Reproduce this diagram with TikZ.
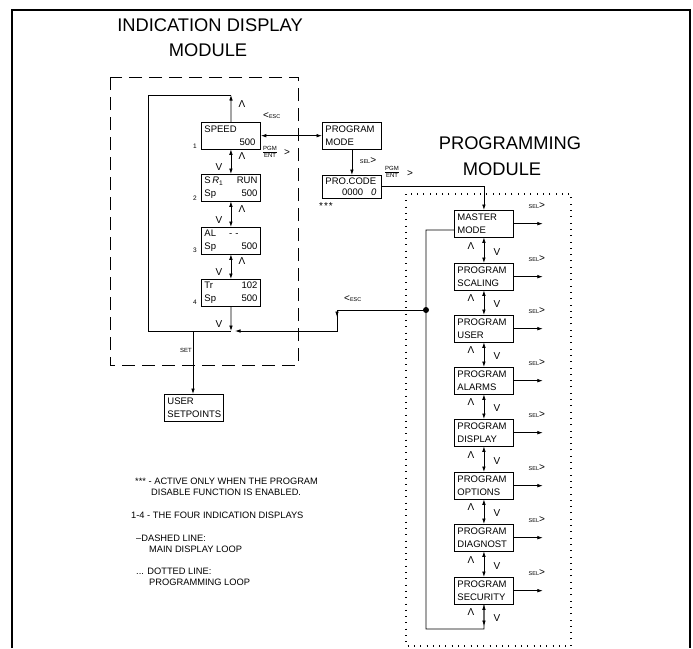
\documentclass[tikz,border=0pt]{standalone}
\usepackage{fontspec}
\setmainfont{Liberation Sans}
\usetikzlibrary{arrows.meta,calc}
\newcommand{\myesc}{{\fontsize{10}{10}\selectfont<}{\fontsize{5.5}{6}\selectfont ESC}}
\newcommand{\mysel}{{\fontsize{5.5}{6}\selectfont SEL}{\fontsize{10}{10}\selectfont>}}
\newcommand{\rline}[1]{\makebox[53pt][r]{#1}}
\begin{document}
\begin{tikzpicture}[x=1pt,y=-1pt,
  >={Latex[length=5.5pt,width=3.6pt]},
  box/.style={draw, line width=0.85pt, minimum height=26.5pt, text width=53pt,
    inner xsep=3pt, inner ysep=1pt, align=left,
    font=\fontsize{9.5}{12.5}\selectfont, anchor=north west},
  conn/.style={line width=0.75pt},
  lbl/.style={font=\fontsize{10}{10}\selectfont, inner sep=0pt},
  tinylbl/.style={font=\fontsize{6}{6}\selectfont, inner sep=0pt},
  numlbl/.style={font=\fontsize{6.5}{6.5}\selectfont, inner sep=0pt},
  legend/.style={font=\fontsize{9.3}{10}\selectfont, inner sep=0pt, anchor=west},
  title/.style={font=\fontsize{18.3}{20}\selectfont, inner sep=0pt}]
\useasboundingbox (0,0) rectangle (693,648);
% outer frame
\draw[line width=2pt] (12,648) -- (12,10) -- (690,10) -- (690,648);
% titles
\node[title] (t1) at (210,25) {INDICATION DISPLAY};
\node[title] (t2) at (208,50) {MODULE};
\node[title] (t3) at (510,143) {PROGRAMMING};
\node[title] (t4) at (502,169) {MODULE};
% module frames
\draw[line width=0.9pt, dash pattern=on 13pt off 7pt] (110,77) rectangle (298,365);
\draw[line width=1.1pt, dash pattern=on 0.9pt off 5.4pt] (406,194) rectangle (571,646);
% indication boxes
\node[box] (b1) at (201,122) {SPEED\\\rline{500\hspace{2pt}}};
\node[box] (b2) at (201,174) {S\,\textit{R}\textsubscript{1}\hfill RUN\\Sp\hfill 500\hspace*{3pt}};
\node[box] (b3) at (201,227) {AL\hspace{13pt}- -\\Sp\hfill 500\hspace*{3pt}};
\node[box] (b4) at (201,279) {Tr\hfill 102\hspace*{2pt}\\Sp\hfill 500\hspace*{2pt}};
\node[box] (us) at (164,394) {USER\\SETPOINTS};
\node[box] (pm) at (322,122) {PROGRAM\\MODE};
\node[box, minimum height=22.5pt, font=\fontsize{9.5}{11}\selectfont] (pc) at (322,175) {PRO.CODE\\\rline{0000\hspace{8pt}\textit{0}\hspace{2pt}}};
% box numbers
\node[numlbl] (n1) at (195,146) {1};
\node[numlbl] (n2) at (195,198) {2};
\node[numlbl] (n3) at (195,250) {3};
\node[numlbl] (n4) at (195,302) {4};
% indication loop
\coordinate (tr) at (231,95);
\coordinate (tl) at (148,95);
\coordinate (bl) at (148,331);
\coordinate (br) at (231,331);
\coordinate (setj) at (193,331);
\draw[conn,->] (b1.north) -- (tr);
\draw[conn] (tr) -- (tl) -- (bl) -- (br);
\draw[conn,<->] (b1.south) -- (b2.north);
\draw[conn,<->] (b2.south) -- (b3.north);
\draw[conn,<->] (b3.south) -- (b4.north);
\draw[conn,->] (b4.south) -- (br);
\draw[conn,->] (setj) -- (setj |- us.north);
\node[tinylbl, anchor=east] (setl) at (192,350) {SET};
\node[lbl] (ua0) at (242,104) {Λ};
\node[lbl] (ua1) at (242,156) {Λ};
\node[lbl] (ud1) at (219,167) {V};
\node[lbl] (ua2) at (242,209) {Λ};
\node[lbl] (ud2) at (219,220) {V};
\node[lbl] (ua3) at (242,261) {Λ};
\node[lbl] (ud3) at (219,272) {V};
\node[lbl] (ud4) at (219,324) {V};
% speed <-> program mode
\draw[conn,<->] (b1.east) -- (pm.west);
\node[inner sep=0pt, anchor=west] (esc1) at (263,116) {\myesc};
\node[inner sep=0pt, font=\fontsize{6}{6}\selectfont, align=center] (pe1) at (270,152) {\underline{PGM}\\ENT};
\node[lbl] (pe1g) at (287,153) {>};
\draw[conn,->] (pm.south) -- (pc.north);
\node[inner sep=0pt] (sel0) at (368,161) {\mysel};
\node[inner sep=0pt, font=\fontsize{10}{10}\selectfont] (ast) at (326,206) {*\kern1pt*\kern1pt*};
\node[inner sep=0pt, font=\fontsize{6}{6}\selectfont, align=center] (pe2) at (392,172) {\underline{PGM}\\ENT};
% programming boxes
\node[box] (m1) at (454,210) {MASTER\\MODE};
\node[box] (m2) at (454,263) {PROGRAM\\SCALING};
\node[box] (m3) at (454,315) {PROGRAM\\USER};
\node[box] (m4) at (454,367) {PROGRAM\\ALARMS};
\node[box] (m5) at (454,419) {PROGRAM\\DISPLAY};
\node[box] (m6) at (454,472) {PROGRAM\\OPTIONS};
\node[box] (m7) at (454,524) {PROGRAM\\DIAGNOST};
\node[box] (m8) at (454,577) {PROGRAM\\SECURITY};
\node[lbl] (pe2g) at (410,174) {>};
\draw[conn,->] (pc.east) -| (m1.north);
\foreach \i/\j in {1/2,2/3,3/4,4/5,5/6,6/7,7/8}
  \draw[conn,<->] (m\i.south) -- (m\j.north);
\foreach \i in {1,...,8}{
  \draw[conn,->] (m\i.east) -- ++(29,0);
  \node[inner sep=0pt] (sel\i) at ($(m\i.north east)+(23,-4)$) {\mysel};
}
\foreach \g in {237,289,341,393,446,498,551,603}{
  \node[lbl] (pa\g) at (471,\g+9) {Λ};
  \node[lbl] (pd\g) at (497,\g+15) {V};
}
% programming loop
\coordinate (pbr) at (484,629);
\coordinate (pbl) at (426,629);
\coordinate (ptl) at (426,230);
\coordinate (pml) at (454,230);
\draw[conn,<->] (m8.south) -- ($(pbr)+(0,-3)$);
\draw[conn] (m8.south) -- (pbr) -- (pbl) -- (ptl) -- (pml);
% esc return
\coordinate (dot) at (426,310);
\coordinate (ek1) at (337,310);
\coordinate (ek2) at (337,331);
\coordinate (eend) at (235,331);
\fill (dot) circle (3pt);
\draw[conn,->] (dot) -- (ek1) -- (ek2) -- (eend);
\draw[conn,->] (ek1) -- ($(ek1)+(0,7)$);
\node[inner sep=0pt, anchor=west] (esc2) at (344,299) {\myesc};
% legend
\node[legend] (l1) at (135,481) {*** - ACTIVE ONLY WHEN THE PROGRAM};
\node[legend] (l2) at (151,492) {DISABLE FUNCTION IS ENABLED.};
\node[legend] (l3) at (131,515) {1-4 - THE FOUR INDICATION DISPLAYS};
\node[legend] (l4) at (136,538) {--DASHED LINE:};
\node[legend] (l5) at (149,549) {MAIN DISPLAY LOOP};
\node[legend] (l6) at (136,571) {... DOTTED LINE:};
\node[legend] (l7) at (149,582) {PROGRAMMING LOOP};
\end{tikzpicture}
\end{document}
